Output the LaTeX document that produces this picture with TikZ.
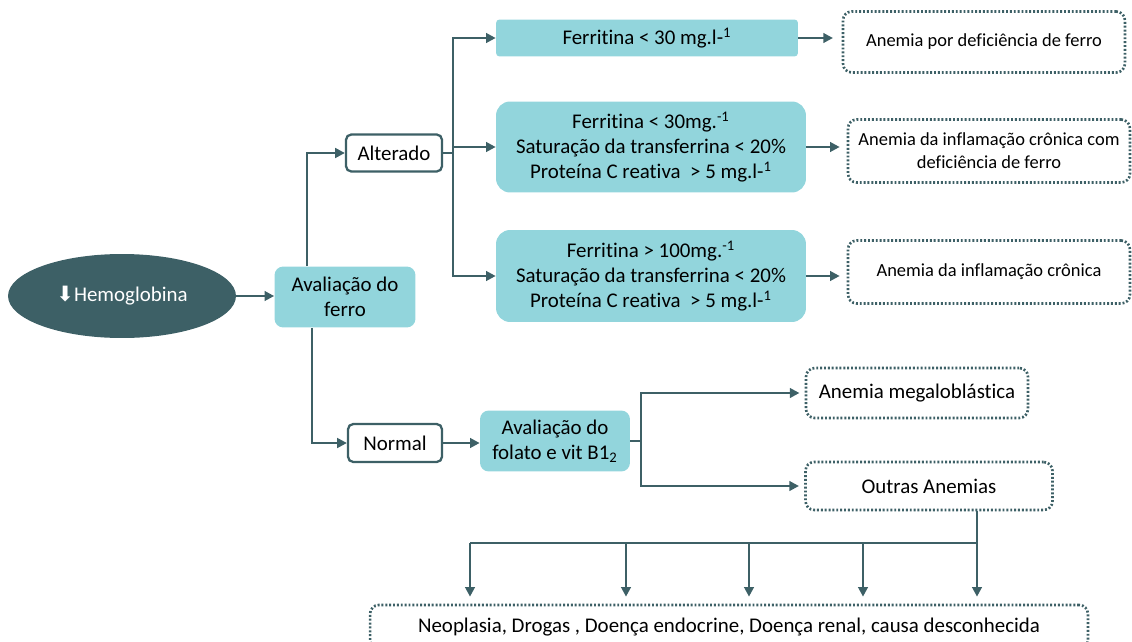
\documentclass[tikz,border=0pt]{standalone}
\usepackage{fontspec}
\setmainfont[Ligatures=NoCommon]{Carlito}
\newfontfamily\setafont{DejaVu Sans}
\usetikzlibrary{arrows.meta,shapes.geometric,positioning}

\definecolor{tealescuro}{HTML}{3D6066}
\definecolor{tealclaro}{HTML}{92D5DC}

\tikzset{
  linha/.style={draw=tealescuro, line width=1.3pt},
  seta/.style={linha, -{Triangle[length=5.5pt,width=5.5pt]}},
  exame/.style={fill=tealclaro, align=center, inner sep=0pt,
    font=\fontsize{11.9}{14.2}\selectfont},
  estado/.style={draw=tealescuro, fill=white, line width=1.3pt,
    rounded corners=3pt, inner sep=0pt, font=\fontsize{11.9}{14}\selectfont},
  resultado/.style={draw=tealescuro, line width=1.5pt,
    dash pattern=on 1.1pt off 1.1pt, rounded corners=5pt, align=center,
    inner sep=0pt, font=\fontsize{10.5}{13}\selectfont},
}

\begin{document}
\begin{tikzpicture}[x=0.02cm, y=-0.02cm]
  \useasboundingbox (0,0) rectangle (1132,642);

  %%% inicio
  \node[ellipse, fill=tealescuro, text=white, minimum width=4.56cm,
    minimum height=1.68cm, font=\fontsize{11.9}{14}\selectfont]
    (hb) at (122,296) {{\setafont\fontsize{12}{12}\selectfont ⬇}Hemoglobina};
  \node[exame, rounded corners=5pt, minimum width=2.82cm, minimum height=1.22cm]
    (ferro) at (345,297) {Avaliação do\\ferro};

  \node[estado, minimum width=1.92cm, minimum height=0.74cm] (alt) at (394,153) {Alterado};
  \node[estado, minimum width=1.88cm, minimum height=0.76cm] (nor) at (395,443) {Normal};

  %%% ramo alterado
  \node[exame, rounded corners=2pt, minimum width=6.04cm, minimum height=0.74cm]
    (f1) at (647,38) {Ferritina < 30 mg.l-\textsuperscript{1}};
  \node[exame, rounded corners=8pt, minimum width=6.2cm, minimum height=1.82cm]
    (f2) at (651,147) {Ferritina < 30mg.\textsuperscript{-1}\\
      Saturação da transferrina < 20\%\\
      Proteína C reativa \ > 5 mg.l-\textsuperscript{1}};
  \node[exame, rounded corners=8pt, minimum width=6.2cm, minimum height=1.84cm]
    (f3) at (651,276) {Ferritina > 100mg.\textsuperscript{-1}\\
      Saturação da transferrina < 20\%\\
      Proteína C reativa \ > 5 mg.l-\textsuperscript{1}};

  \node[resultado, minimum width=5.64cm, minimum height=1.22cm]
    (r1) at (984,42) {Anemia por deficiência de ferro};
  \node[resultado, minimum width=5.64cm, minimum height=1.26cm]
    (r2) at (989,151) {Anemia da inflamação crônica com\\deficiência de ferro};
  \node[resultado, minimum width=5.64cm, minimum height=1.26cm]
    (r3) at (989,272) {Anemia da inflamação crônica};

  %%% ramo normal
  \node[exame, rounded corners=5pt, minimum width=3cm, minimum height=1.22cm]
    (fol) at (555,441) {Avaliação do\\folato e vit B1\textsubscript{2}};
  \node[resultado, minimum width=4.44cm, minimum height=1cm,
    font=\fontsize{11.9}{14}\selectfont] (mega) at (917,393) {Anemia megaloblástica};
  \node[resultado, minimum width=4.94cm, minimum height=0.96cm,
    font=\fontsize{11.9}{14}\selectfont] (outras) at (929,486) {Outras Anemias};
  \node[resultado, minimum width=14.36cm, minimum height=0.88cm,
    font=\fontsize{11.9}{14}\selectfont] (fim) at (729,627)
    {Neoplasia, Drogas , Doença endocrine, Doença renal, causa desconhecida};

  %%% ligacoes
  \draw[seta] (hb.east) -- (hb.east -| ferro.west);
  \draw[seta] ([xshift=0.66cm]ferro.north west) |- (alt);
  \draw[seta] ([xshift=0.76cm]ferro.south west) |- (nor);

  \coordinate (j1) at (453,153);
  \draw[linha] (alt) -- (j1);
  \draw[seta] (j1) |- (f1.west);
  \draw[seta] (j1 |- f2.west) -- (f2.west);
  \draw[seta] (j1) |- (f3.west);

  \draw[seta, shorten >=5pt] (f1.east) -- (f1.east -| r1.west);
  \draw[seta, shorten >=4pt] (f2.east) -- (f2.east -| r2.west);
  \draw[seta, shorten >=4pt] (f3.east) -- (f3.east -| r3.west);

  \draw[seta] (nor.east) -- (nor.east -| fol.west);
  \coordinate (j2) at (641,441);
  \draw[linha] (fol.east) -- (j2);
  \draw[seta, shorten >=3pt] (j2) |- (mega.west);
  \draw[seta, shorten >=3pt] (j2) |- (outras.west);

  \foreach \x [count=\i] in {470,626,749,863,977}
    \coordinate (b\i) at (\x,543);
  \draw[linha] (outras.south -| b5) -- (b5) -- (b1);
  \foreach \i in {1,...,5}
    \draw[seta, shorten >=4pt] (b\i) -- (b\i |- fim.north);
\end{tikzpicture}
\end{document}
